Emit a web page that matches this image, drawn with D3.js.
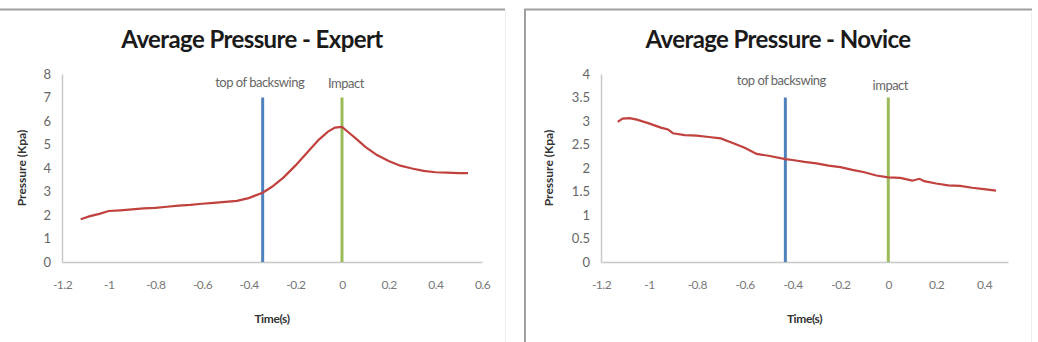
<!DOCTYPE html>
<html>
<head>
<meta charset="utf-8">
<script src="https://cdn.jsdelivr.net/npm/d3@7"></script>
<style>
  body { margin: 0; background: #fff; }
  svg { display: block; font-family: Lato, "Open Sans", sans-serif; }
</style>
</head>
<body>
<svg id="chart" width="1038" height="342"></svg>
<script>
// expert: time (s) and average pressure (Kpa)
var expertTime = [-1.12, -1.08, -1.04, -1.0, -0.95, -0.9, -0.85, -0.8, -0.75, -0.7, -0.65, -0.6, -0.55, -0.5, -0.45, -0.4, -0.34, -0.3, -0.25, -0.2, -0.15, -0.1, -0.06, -0.03, 0.0, 0.03, 0.06, 0.1, 0.15, 0.2, 0.25, 0.3, 0.35, 0.4, 0.45, 0.5, 0.54];
var expertPressure = [1.82, 1.95, 2.05, 2.17, 2.2, 2.24, 2.28, 2.3, 2.35, 2.4, 2.43, 2.48, 2.52, 2.56, 2.6, 2.72, 2.95, 3.2, 3.6, 4.1, 4.65, 5.2, 5.55, 5.72, 5.75, 5.5, 5.25, 4.9, 4.55, 4.3, 4.1, 3.98, 3.88, 3.82, 3.8, 3.78, 3.78];
// novice
var noviceTime = [-1.13, -1.11, -1.08, -1.05, -1.0, -0.95, -0.92, -0.9, -0.85, -0.8, -0.75, -0.7, -0.65, -0.6, -0.55, -0.5, -0.43, -0.4, -0.35, -0.3, -0.25, -0.2, -0.15, -0.1, -0.05, 0.0, 0.05, 0.1, 0.13, 0.15, 0.2, 0.25, 0.3, 0.35, 0.4, 0.45];
var novicePressure = [2.98, 3.05, 3.06, 3.03, 2.95, 2.86, 2.82, 2.74, 2.7, 2.69, 2.66, 2.63, 2.53, 2.43, 2.3, 2.26, 2.19, 2.17, 2.13, 2.1, 2.05, 2.02, 1.96, 1.91, 1.84, 1.8, 1.79, 1.73, 1.77, 1.72, 1.67, 1.63, 1.62, 1.58, 1.55, 1.52];

var expertXTicks = [-1.2, -1, -0.8, -0.6, -0.4, -0.2, 0, 0.2, 0.4, 0.6];
var expertYTicks = [0, 1, 2, 3, 4, 5, 6, 7, 8];
var noviceXTicks = [-1.2, -1, -0.8, -0.6, -0.4, -0.2, 0, 0.2, 0.4];
var noviceYTicks = [0, 0.5, 1, 1.5, 2, 2.5, 3, 3.5, 4];

var expertMarkers = [-0.34, 0];
var noviceMarkers = [-0.43, 0];
var expertMarkerLabels = ["top of backswing", "Impact"];
var noviceMarkerLabels = ["top of backswing", "impact"];

var svg = d3.select("#chart");

// chart frames
svg.append("line").attr("x1", 0).attr("x2", 505).attr("y1", 9.5).attr("y2", 9.5)
  .attr("stroke", "#a0a0a0").attr("stroke-width", 2);
svg.append("line").attr("x1", 505.5).attr("x2", 505.5).attr("y1", 10).attr("y2", 342)
  .attr("stroke", "#eeeeee").attr("stroke-width", 1);
svg.append("path").attr("d", "M525,342V9.5H1032")
  .attr("fill", "none").attr("stroke", "#a0a0a0").attr("stroke-width", 2);
svg.append("line").attr("x1", 1031.5).attr("x2", 1031.5).attr("y1", 12).attr("y2", 342)
  .attr("stroke", "#eeeeee").attr("stroke-width", 1);

var plain = function(d) { return String(d); };

function drawChart(o) {
  var g = svg.append("g");
  var x = d3.scaleLinear().domain(o.xDomain).range([o.left, o.right]);
  var y = d3.scaleLinear().domain(o.yDomain).range([262, 74]);

  g.append("text").attr("x", o.titleX).attr("y", 48).attr("text-anchor", "middle")
    .attr("font-size", 24).attr("font-weight", "bold").attr("fill", "#1a1a1a")
    .attr("letter-spacing", -0.6).text(o.title);

  // y axis
  var ya = g.append("g").attr("transform", "translate(" + o.left + ",0)")
    .call(d3.axisLeft(y).tickValues(o.yTicks).tickSize(0).tickPadding(11).tickFormat(plain));
  ya.select(".domain").attr("stroke", "#c8c8c8").attr("stroke-width", 1.5);
  ya.selectAll("text").attr("font-size", 13).attr("fill", "#666").attr("font-family", "Lato, sans-serif");

  // x axis
  var xa = g.append("g").attr("transform", "translate(0," + 262 + ")")
    .call(d3.axisBottom(x).tickValues(o.xTicks).tickSize(0).tickPadding(18).tickFormat(plain));
  xa.select(".domain").attr("stroke", "#c8c8c8").attr("stroke-width", 1.5);
  xa.selectAll("text").attr("font-size", 12).attr("fill", "#777").attr("font-family", "Lato, sans-serif")
    .attr("letter-spacing", -0.5);

  g.append("text").attr("x", (o.left + o.right) / 2).attr("y", 323).attr("text-anchor", "middle")
    .attr("font-size", 12).attr("font-weight", "bold").attr("fill", "#333")
    .attr("letter-spacing", -0.4).text("Time(s)");
  g.append("text").attr("transform", "translate(" + o.yLabelX + ",168) rotate(-90)")
    .attr("text-anchor", "middle").attr("font-size", 12).attr("font-weight", "bold").attr("fill", "#333")
    .text("Pressure (Kpa)");

  // event markers
  var colors = ["#4f81bd", "#9bbb59"];
  o.markers.forEach(function(t, i) {
    g.append("line").attr("x1", x(t)).attr("x2", x(t)).attr("y1", y(o.markerTop)).attr("y2", y(0))
      .attr("stroke", colors[i]).attr("stroke-width", 3);
    g.append("text").attr("x", x(t) + o.labelDx[i]).attr("y", o.labelY[i]).attr("text-anchor", "middle")
      .attr("font-size", 13).attr("fill", "#666").attr("letter-spacing", -0.5).text(o.markerLabels[i]);
  });

  var line = d3.line().x(function(d) { return x(d[0]); }).y(function(d) { return y(d[1]); });
  g.append("path").datum(d3.zip(o.time, o.pressure)).attr("d", line)
    .attr("fill", "none").attr("stroke", "#c0413d").attr("stroke-width", 2.2);
}

drawChart({
  title: "Average Pressure - Expert", titleX: 252,
  xDomain: [-1.2, 0.6], yDomain: [0, 8], left: 62, right: 482,
  xTicks: expertXTicks, yTicks: expertYTicks,
  time: expertTime, pressure: expertPressure,
  markers: expertMarkers, markerLabels: expertMarkerLabels, markerTop: 7,
  labelDx: [-3, 4], labelY: [87, 88], yLabelX: 26
});
drawChart({
  title: "Average Pressure - Novice", titleX: 778,
  xDomain: [-1.2, 0.5], yDomain: [0, 4], left: 601, right: 1008,
  xTicks: noviceXTicks, yTicks: noviceYTicks,
  time: noviceTime, pressure: novicePressure,
  markers: noviceMarkers, markerLabels: noviceMarkerLabels, markerTop: 3.5,
  labelDx: [-4, 2], labelY: [85, 90], yLabelX: 553
});
</script>
</body>
</html>
